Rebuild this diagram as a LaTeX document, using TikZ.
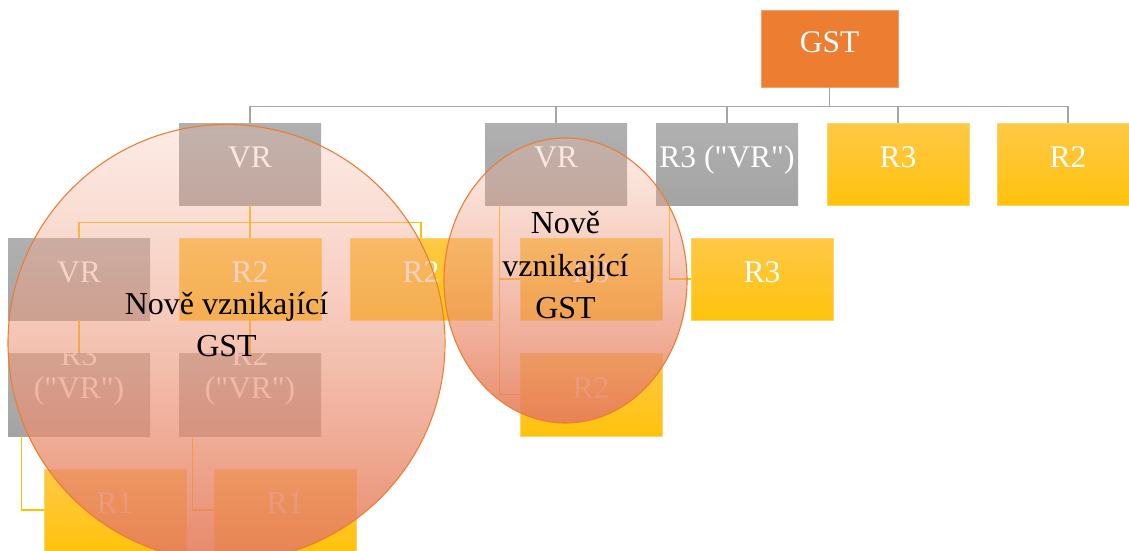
\documentclass[tikz,border=0pt]{standalone}
\usepackage{fontspec}
\setmainfont{Liberation Serif}[Ligatures=TeXOff]
\usetikzlibrary{fadings,calc}

\definecolor{gstOrange}{HTML}{ED7D31}
\definecolor{gstEdge}{HTML}{F3A06A}
\definecolor{grayTop}{HTML}{B0B0B0}
\definecolor{grayBot}{HTML}{A4A4A4}
\definecolor{yelTop}{HTML}{FFC847}
\definecolor{yelBot}{HTML}{FFC30C}
\definecolor{yelEdge}{HTML}{FFD466}
\definecolor{wireGray}{HTML}{A5A5A5}
\definecolor{wireYel}{HTML}{FFC000}
\definecolor{ovalTop}{HTML}{F4B9A3}
\definecolor{ovalBot}{HTML}{E67D5C}
\definecolor{ovalEdge}{HTML}{ED7D31}

% translucent overlay: faint at the top, nearly solid at the bottom
\tikzfading[name=ovalfade, top color=transparent!72, bottom color=transparent!8]

\begin{document}
\begin{tikzpicture}[x=1pt, y=-1pt,
  box/.style={rectangle, inner sep=0pt, minimum width=142pt, minimum height=82pt,
    text=white, font=\fontsize{31.5}{33}\selectfont, align=center},
  oneline/.style={text height=21.7pt, text depth=13.9pt},
  twoline/.style={minimum height=83pt, text height=21pt, text depth=13pt},
  grey box/.style={box, shade, top color=grayTop, bottom color=grayBot},
  yellow box/.style={box, shade, top color=yelTop, bottom color=yelBot,
    draw=yelEdge, line width=0.6pt},
  gst box/.style={box, oneline, fill=gstOrange, draw=gstEdge, line width=0.8pt,
    minimum width=137pt, minimum height=77pt},
  wire grey/.style={draw=wireGray, line width=1.2pt},
  wire yellow/.style={draw=wireYel, line width=1.2pt},
  oval fill/.style={top color=ovalTop, bottom color=ovalBot, path fading=ovalfade},
  oval line/.style={draw=ovalEdge, line width=1.1pt},
  caption/.style={anchor=base, inner sep=0pt, text=black,
    font=\fontsize{32}{42}\selectfont}]

\useasboundingbox (0,0) rectangle (1129,551);
\clip (0,0) rectangle (1129,551);

% --- top level
\node[gst box] (gst) at (829.5,48.5) {GST};

% --- second level
\node[grey box, oneline] (vrA) at (250,164) {VR};
\node[grey box, oneline] (vrB) at (556,164) {VR};
\node[grey box, oneline] (vrR3) at (727,164) {R3 ("VR")};
\node[yellow box, oneline] (r3A) at (898,164) {R3};
\node[yellow box, oneline] (r2A) at (1068,164) {R2};

% --- third level
\node[grey box, oneline] (vrC) at (79,279) {VR};
\node[yellow box, oneline] (r2B) at (250,279) {R2};
\node[yellow box, oneline] (r2C) at (421,279) {R2};
\node[yellow box, oneline] (r3B) at (591,279) {R3};
\node[yellow box, oneline] (r3C) at (762,279) {R3};

% --- fourth level
\node[grey box, twoline] (r3VR) at (79,394.5) {R3\\("VR")};
\node[grey box, twoline] (r2VR) at (250,394.5) {R2\\("VR")};
\node[yellow box, oneline, minimum height=83pt] (r2D) at (591,394.5) {R2};

% --- fifth level
\node[yellow box, oneline] (r1A) at (115,510) {R1};
\node[yellow box, oneline] (r1B) at (285,510) {R1};

% --- connectors
\foreach \c in {vrA,vrB,vrR3,r3A,r2A}
  \draw[wire grey] (gst.south) -- ++(0,19) -| (\c.north);
\foreach \c in {vrC,r2B,r2C}
  \draw[wire yellow] (vrA.south) -- ++(0,17) -| (\c.north);
\draw[wire yellow] ($(vrB.south west)+(15,0)$) |- (r3B.west);
\draw[wire yellow] ($(vrB.south west)+(15,0)$) |- (r2D.west);
\draw[wire yellow] ($(vrR3.south west)+(14,0)$) |- (r3C.west);
\draw[wire yellow] (vrC.south) -- (r3VR.north);
\draw[wire yellow] (r2B.south) -- (r2VR.north);
\draw[wire yellow] ($(r3VR.south west)+(14,0)$) |- (r1A.west);
\draw[wire yellow] ($(r2VR.south west)+(14,0)$) |- (r1B.west);

% --- highlighted groups
\shade[oval fill] (226.5,343) circle[radius=218.5];
\draw[oval line] (226.5,343) circle[radius=218.5];
\shade[oval fill] (565.5,280.5) ellipse[x radius=121.5, y radius=142.5];
\draw[oval line] (565.5,280.5) ellipse[x radius=121.5, y radius=142.5];

% --- group captions
\node[caption] (capA1) at (226.5,314) {Nově vznikající};
\node[caption] (capA2) at (226.5,356) {GST};
\node[caption] (capB1) at (565.5,233) {Nově};
\node[caption] (capB2) at (565.5,276) {vznikající};
\node[caption] (capB3) at (565.5,318) {GST};
\end{tikzpicture}
\end{document}
